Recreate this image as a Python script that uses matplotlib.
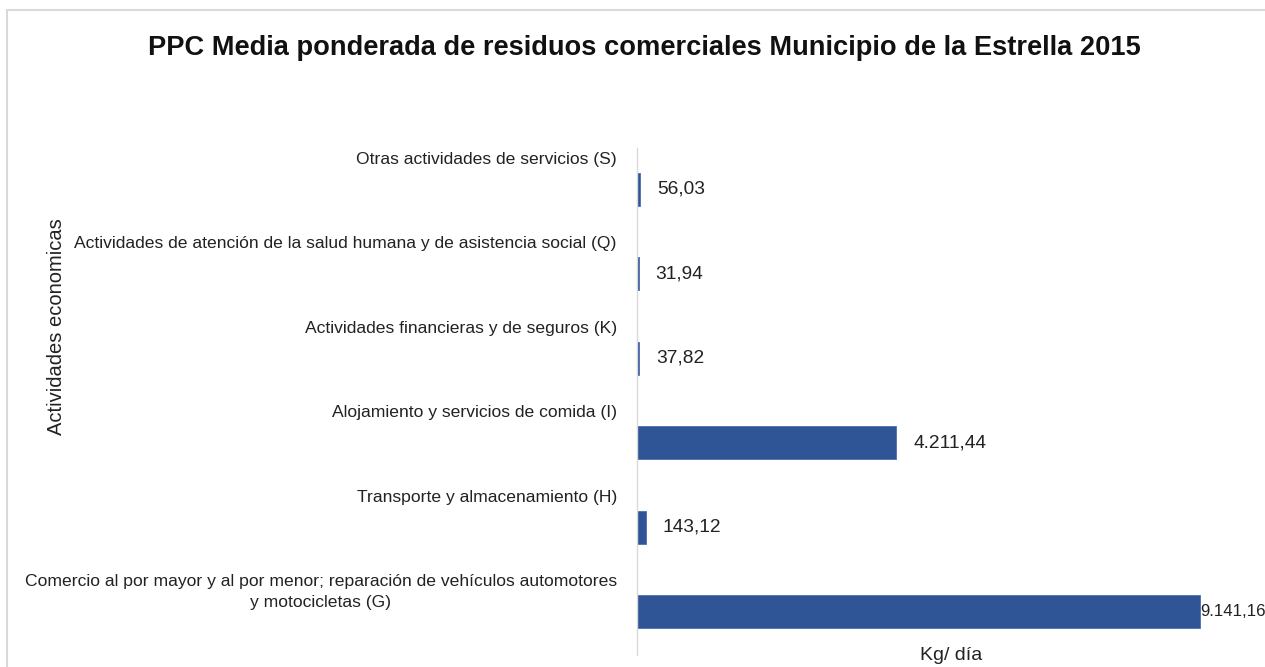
import matplotlib.pyplot as plt
from matplotlib.patches import Rectangle
from matplotlib import font_manager
import numpy as np

# categories listed top to bottom as in the chart
categories = [
    "Otras actividades de servicios (S)",
    "Actividades de atención de la salud humana y de asistencia social (Q)",
    "Actividades financieras y de seguros (K)",
    "Alojamiento y servicios de comida (I)",
    "Transporte y almacenamiento (H)",
    "Comercio al por mayor y al por menor; reparación de vehículos automotores\ny motocicletas (G)",
]
values = [56.03, 31.94, 37.82, 4211.44, 143.12, 9141.16]
value_labels = ["56,03", "31,94", "37,82", "4.211,44", "143,12", "9.141,16"]

installed = {f.name for f in font_manager.fontManager.ttflist}
family = [f for f in ["Liberation Sans Narrow", "Liberation Sans", "DejaVu Sans"] if f in installed]
plt.rcParams['font.family'] = family

W, H = 1265, 667
fig = plt.figure(figsize=(W / 100, H / 100), dpi=100)
fig.patch.set_facecolor("white")

# light chart border
fig.patches.append(Rectangle((7 / W, -0.05), 1.1, 1 - 10 / H + 0.05,
                             transform=fig.transFigure, fill=False,
                             edgecolor="#D9D9D9", linewidth=1.5))

ax = fig.add_axes([637 / W, 1 - 655 / H, (W - 637) / W, (655 - 148) / H])
bar_color = "#2F5597"

y = np.arange(len(categories))[::-1]
ax.barh(y, values, height=0.39, color=bar_color, edgecolor="#4A70B0", linewidth=0.6)

ax.set_ylim(-0.51, 5.49)
ax.set_xlim(0, 9141.16 * (W - 637) / (1200 - 637))

for yi, cat, v, lab in zip(y, categories, values, value_labels):
    ax.text(-20 / (W - 637), yi + 0.445, cat, transform=ax.get_yaxis_transform(),
            ha="right", va="top", fontsize=12.6, color="#222222",
            multialignment="center", linespacing=1.5)
    # the largest bar runs almost to the edge: its label sits tight and a bit smaller
    big = v > 9000
    ax.annotate(lab, (v, yi), xytext=(0.5 if big else 12, 0), textcoords="offset points",
                ha="left", va="center", fontsize=12.2 if big else 13.8, color="#222222",
                annotation_clip=False)

ax.set_yticks([])
ax.set_xticks([])
for s in ["top", "right", "bottom"]:
    ax.spines[s].set_visible(False)
ax.spines["left"].set_color("#D9D9D9")
ax.spines["left"].set_linewidth(1)

ax.set_xlabel("Kg/ día", fontsize=14, color="#222222", labelpad=-6)
fig.text(57 / W, 1 - 327 / H, "Actividades economicas", rotation=90,
         ha="center", va="center", fontsize=14.5, color="#222222")

fig.text(644 / W, 1 - 48 / H,
         "PPC Media ponderada de residuos comerciales Municipio de la Estrella 2015",
         ha="center", va="center", fontsize=19.6, fontweight="bold", color="#111111")

fig.savefig("out.png", dpi=100, facecolor="white")
